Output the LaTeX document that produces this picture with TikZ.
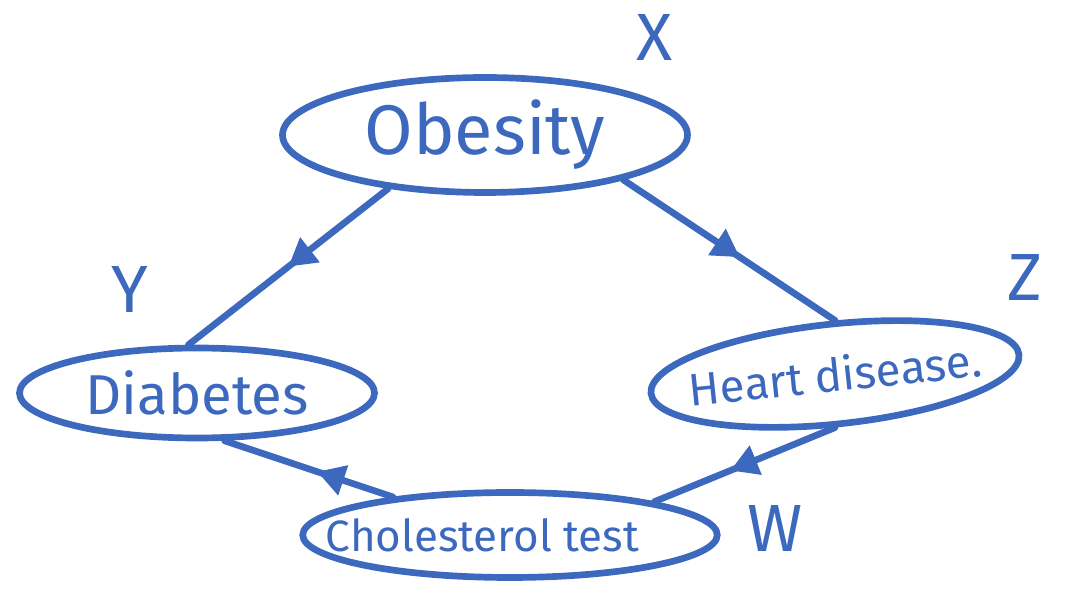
\documentclass[tikz,border=0pt]{standalone}
\usepackage{fontspec}
\setmainfont{Fira Sans}
\usetikzlibrary{shapes.geometric,decorations.markings,arrows.meta}
\definecolor{ink}{RGB}{60,105,190}

\begin{document}
\begin{tikzpicture}[
    inkline/.style={draw=ink,line width=3.8pt,line cap=round},
    blob/.style={ellipse,inkline,inner sep=0pt,text=ink},
    midarrow/.style={inkline,postaction={decorate},
      decoration={markings,mark=at position #1 with {\arrow[color=ink]{Triangle[length=0.55cm,width=0.6cm]}}}},
    tag/.style={text=ink,font=\fontsize{38}{40}\selectfont}
  ]
  \useasboundingbox (0,0) rectangle (21.82,11.78);
  % the four variables
  \node[blob,minimum width=8.1cm,minimum height=2.3cm,font=\fontsize{40}{44}\selectfont] (obesity) at (9.70,9.08) {Obesity};
  \node[blob,minimum width=7.1cm,minimum height=1.8cm,font=\fontsize{32}{36}\selectfont] (diabetes) at (3.94,3.92) {Diabetes};
  \node[blob,minimum width=7.4cm,minimum height=2.0cm,inner xsep=-0.4cm,rotate=6,font=\fontsize{26}{30}\selectfont] (heart) at (16.70,4.30) {Heart disease.};
  \node[blob,minimum width=8.2cm,minimum height=1.7cm,inner xsep=-0.75cm,font=\fontsize{25}{28}\selectfont] (chol) at (10.20,1.08) {Cholesterol test\hspace*{1.1cm}};
  % letters
  \node[tag] (x) at (13.10,11.02) {X};
  \node[tag] (y) at (2.60,5.98) {Y};
  \node[tag] (z) at (20.50,6.22) {Z};
  \node[tag] (w) at (15.50,1.22) {W};
  % links
  \draw[midarrow=0.5] (obesity.209) -- (diabetes.100);
  \draw[midarrow=0.55] (obesity.342) -- (heart.84);
  \draw[midarrow=0.45] (chol.162) -- (diabetes.300);
  \draw[midarrow=0.58] (heart.264) -- (chol.13);
\end{tikzpicture}
\end{document}
